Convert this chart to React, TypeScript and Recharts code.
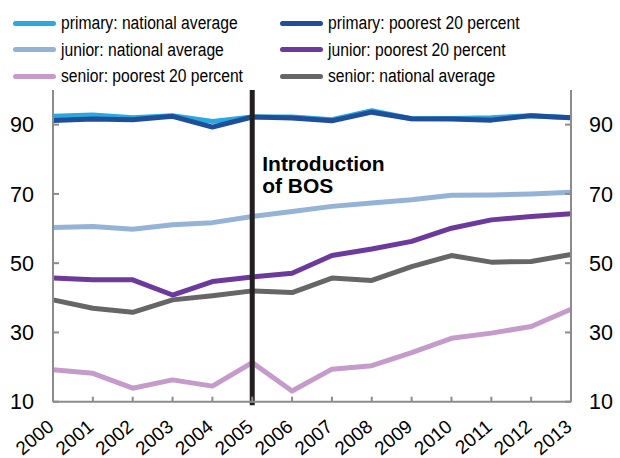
import React from 'react';
import { LineChart, Line, XAxis, YAxis, ReferenceLine } from 'recharts';

const years = ['2000', '2001', '2002', '2003', '2004', '2005', '2006', '2007', '2008', '2009', '2010', '2011', '2012', '2013'];
const primaryNational = [92.4, 92.8, 92.0, 92.6, 90.9, 92.2, 92.2, 91.4, 94.0, 91.7, 91.8, 92.0, 92.6, 92.0];
const primaryPoorest = [91.2, 91.6, 91.4, 92.4, 89.3, 92.2, 91.9, 91.1, 93.6, 91.7, 91.6, 91.3, 92.6, 92.0];
const juniorNational = [60.3, 60.6, 59.8, 61.1, 61.7, 63.5, 64.9, 66.4, 67.4, 68.3, 69.6, 69.7, 70.0, 70.5];
const juniorPoorest = [45.7, 45.2, 45.2, 40.8, 44.7, 46.0, 47.1, 52.2, 54.1, 56.3, 60.1, 62.5, 63.5, 64.3];
const seniorNational = [39.4, 37.0, 35.8, 39.4, 40.6, 42.0, 41.5, 45.7, 45.0, 49.0, 52.2, 50.3, 50.5, 52.5];
const seniorPoorest = [19.2, 18.2, 13.9, 16.3, 14.5, 21.3, 13.1, 19.4, 20.4, 24.2, 28.3, 29.8, 31.7, 36.7];
const yTicks = [10, 30, 50, 70, 90];
const eventYear = '2005';
const eventLabel = ['Introduction', 'of BOS'];

const series = [
  { key: 'pn', name: 'primary: national average', color: '#2AA8E0', values: primaryNational, axis: 'left' },
  { key: 'pp', name: 'primary: poorest 20 percent', color: '#1F4E9A', values: primaryPoorest, axis: 'left' },
  { key: 'jn', name: 'junior: national average', color: '#95B3D7', values: juniorNational, axis: 'left' },
  { key: 'jp', name: 'junior: poorest 20 percent', color: '#6C3A9C', values: juniorPoorest, axis: 'left' },
  { key: 'sp', name: 'senior: poorest 20 percent', color: '#C59BCB', values: seniorPoorest, axis: 'left' },
  { key: 'sn', name: 'senior: national average', color: '#666666', values: seniorNational, axis: 'right' },
];

const data = years.map((y, i) => {
  const row: any = { year: y };
  series.forEach((s) => { row[s.key] = s.values[i]; });
  return row;
});

const FONT = '"Liberation Sans", Arial, sans-serif';
const AXIS = '#8C8C8C';

const XTick = (props: any) => {
  const { x, y, payload } = props;
  return (
    <g transform={`translate(${x + 2},${y + 27})`}>
      <text x={0} y={0} textAnchor="end" transform="rotate(-40)" fontSize={19} fill="#000" fontFamily={FONT}>
        {payload.value}
      </text>
    </g>
  );
};

const EventLabel = (props: any) => {
  const { viewBox } = props;
  const x = viewBox.x + 10;
  const y = viewBox.y;
  return (
    <text x={x} y={y + 81} fontSize={21} fontWeight="bold" fill="#000" fontFamily={FONT}>
      <tspan x={x}>{eventLabel[0]}</tspan>
      <tspan x={x} dy={21.6}>{eventLabel[1]}</tspan>
    </text>
  );
};

const legendOrder = ['pn', 'pp', 'jn', 'jp', 'sp', 'sn'];

export default function App() {
  return (
    <div style={{ position: 'absolute', left: 0, top: 0, width: 620, height: 458, background: '#fff', fontFamily: FONT }}>
      <LineChart width={620} height={458} data={data} margin={{ top: 90, right: 4, bottom: 6.3, left: 8 }}>
        <XAxis
          dataKey="year"
          interval={0}
          stroke={AXIS}
          strokeWidth={2}
          tickSize={-5}
          tickMargin={5}
          tick={<XTick />}
          height={50}
        />
        <YAxis
          yAxisId="left"
          domain={[10, 100]}
          ticks={yTicks}
          width={45}
          stroke={AXIS}
          strokeWidth={2}
          tickSize={-6}
          tickMargin={25}
          tick={{ fill: '#000', fontSize: 21.5, fontFamily: FONT }}
        />
        <YAxis
          yAxisId="right"
          orientation="right"
          domain={[10, 100]}
          ticks={yTicks}
          width={45}
          stroke={AXIS}
          strokeWidth={2}
          tickSize={-6}
          tickMargin={24}
          tick={{ fill: '#000', fontSize: 21.5, fontFamily: FONT }}
        />
        {series.map((s) => (
          <Line
            key={s.key}
            yAxisId={s.axis}
            type="linear"
            dataKey={s.key}
            name={s.name}
            stroke={s.color}
            strokeWidth={5}
            dot={false}
            activeDot={false}
            strokeLinejoin="round"
            isAnimationActive={false}
          />
        ))}
        <ReferenceLine
          yAxisId="left"
          segment={[{ x: eventYear, y: 9 }, { x: eventYear, y: 100 }]}
          ifOverflow="visible"
          stroke="#231F20"
          strokeWidth={5}
          label={<EventLabel />}
        />
      </LineChart>
      {legendOrder.map((k, i) => {
        const s = series.find((d) => d.key === k)!;
        const col = i % 2;
        const row = Math.floor(i / 2);
        const left = col === 0 ? 13 : 280;
        const top = 23 + row * 26.5;
        return (
          <div key={k} style={{ position: 'absolute', left, top: top - 10, height: 20, display: 'flex', alignItems: 'center', whiteSpace: 'nowrap' }}>
            <div style={{ width: 43, height: 5, borderRadius: 3, background: s.color, marginRight: 5 }} />
            <span style={{ display: 'inline-block', fontSize: 18, lineHeight: '20px', color: '#000', fontFamily: FONT, transform: 'scaleX(0.87)', transformOrigin: 'left center' }}>{s.name}</span>
          </div>
        );
      })}
    </div>
  );
}
